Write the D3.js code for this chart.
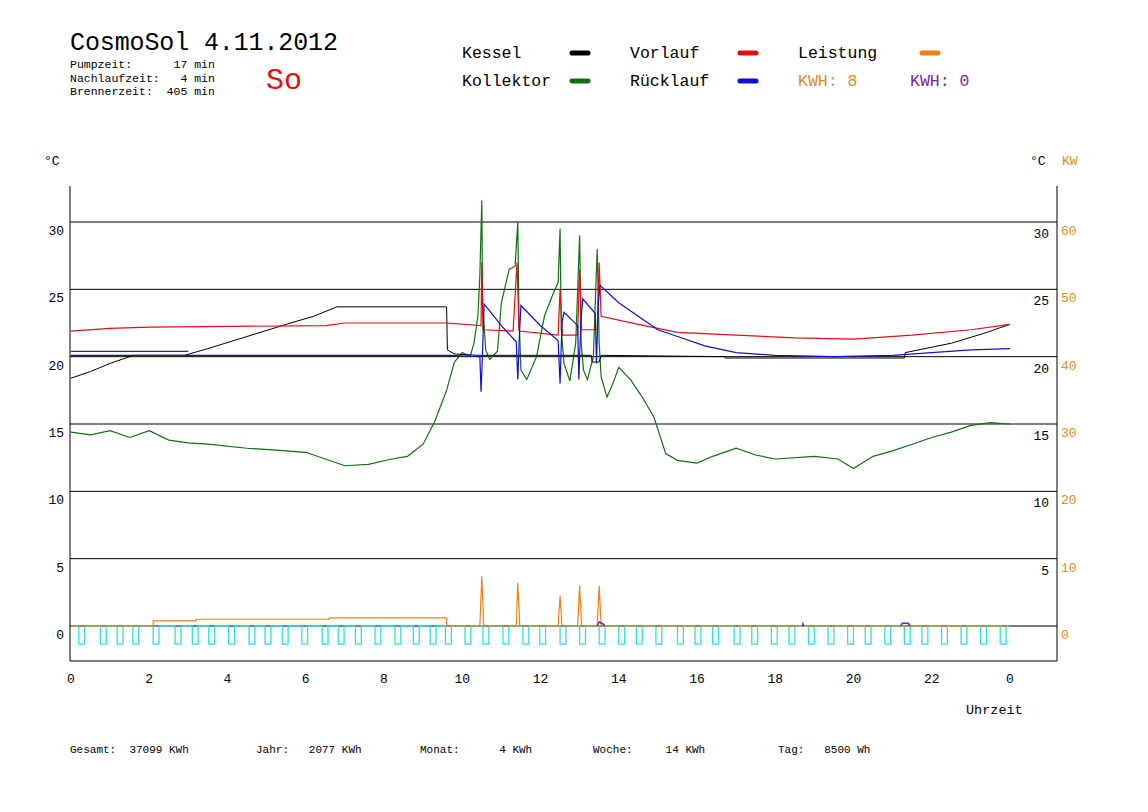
<!DOCTYPE html>
<html>
<head>
<title>CosmoSol</title>
<script src="https://cdn.jsdelivr.net/npm/d3@7"></script>
<style>
body { margin: 0; background: #fff; }
text { font-family: "Liberation Mono", "DejaVu Sans Mono", monospace; }
</style>
</head>
<body>
<svg id="chart" width="1148" height="812"></svg>
<script>
// values: [hour, °C] or [hour, kW]
var kessel = [[0,18.4],[0.5,18.9],[1,19.5],[1.6,20.1],[2.9,20.1],[3.5,20.6],[4.5,21.5],[5.5,22.4],[6.2,23.0],[6.8,23.7],[9.6,23.7],[9.62,20.5],[9.8,20.2],[10.4,20.1],[13.3,20.1],[13.32,19.6],[13.5,19.6],[13.55,20.1],[16.7,20.0],[16.72,19.9],[21.3,19.9],[21.32,20.3],[22.5,21.0],[23.3,21.7],[24,22.4]];
var kessel2 = [[0,20.4],[3.0,20.4]];
var vorlauf = [[0,21.9],[1,22.1],[2,22.2],[6.5,22.3],[7,22.5],[9.6,22.5],[10.48,22.3],[10.5,27.0],[10.53,22.0],[11.3,21.9],[11.4,27.0],[11.45,21.9],[12.45,21.6],[12.5,25.0],[12.56,21.6],[12.95,21.6],[13.0,26.5],[13.05,22.0],[13.45,22.0],[13.5,27.0],[13.55,23.0],[14.5,22.4],[15.5,21.8],[17,21.6],[18.5,21.4],[20,21.3],[21.5,21.6],[23,22.0],[24,22.4]];
var ruecklauf = [[0,20.1],[9.7,20.1],[10.45,20.0],[10.48,17.4],[10.52,20.5],[10.56,23.9],[11.0,22.3],[11.38,21.1],[11.42,18.3],[11.46,21.5],[11.5,23.8],[12.0,22.3],[12.45,21.2],[12.5,18.0],[12.55,22.5],[12.6,23.3],[12.95,22.3],[12.98,18.3],[13.03,22.5],[13.08,24.3],[13.4,23.2],[13.43,19.5],[13.48,24.0],[13.52,25.3],[14.0,24.0],[14.5,23.0],[15.0,22.0],[15.5,21.5],[16.2,20.8],[17,20.3],[18,20.1],[19.5,20.0],[21,20.1],[22,20.3],[23,20.5],[24,20.6]];
var kollektor = [[0,14.4],[0.5,14.2],[1,14.5],[1.5,14.0],[2,14.5],[2.5,13.8],[3,13.6],[3.5,13.5],[4.5,13.2],[5.5,13.0],[6,12.9],[6.5,12.4],[7,11.9],[7.6,12.0],[8.2,12.4],[8.6,12.6],[9,13.5],[9.3,15.2],[9.6,17.5],[9.8,19.6],[10,20.3],[10.2,20.0],[10.3,21.0],[10.4,23.0],[10.45,26.0],[10.5,31.6],[10.52,24.0],[10.6,20.5],[10.7,19.8],[10.9,20.4],[11.0,24.0],[11.2,26.5],[11.35,26.7],[11.42,30.0],[11.45,23.0],[11.5,19.0],[11.65,18.3],[11.9,20.0],[12.1,23.0],[12.3,24.5],[12.45,25.5],[12.5,29.5],[12.53,22.0],[12.6,19.5],[12.75,18.2],[12.9,21.0],[13.0,29.0],[13.04,21.0],[13.1,19.0],[13.2,18.3],[13.35,20.0],[13.45,28.0],[13.5,21.0],[13.55,18.5],[13.7,17.0],[13.85,18.0],[14.0,19.2],[14.3,18.3],[14.6,17.0],[14.9,15.5],[15.2,12.8],[15.5,12.3],[16,12.1],[16.4,12.6],[17,13.2],[17.5,12.7],[18,12.4],[19,12.6],[19.6,12.4],[20,11.7],[20.5,12.6],[21,13.0],[21.5,13.5],[22,14.0],[22.5,14.4],[23,14.9],[23.5,15.1],[24,15.0]];
var leistung = [[0,0],[2.1,0],[2.1,0.75],[3.2,0.75],[3.2,1.0],[6.6,1.0],[6.6,1.2],[9.6,1.2],[9.6,0],[10.45,0],[10.5,7.4],[10.55,0],[11.38,0],[11.42,6.4],[11.47,0],[12.45,0],[12.5,4.5],[12.55,0],[12.95,0],[13.0,6.0],[13.05,0],[13.45,0],[13.5,6.0],[13.55,0],[24,0]];
// null separates the short purple pieces
var purple = [[13.45,0],[13.5,0.6],[13.6,0.3],[13.65,0],null,[18.7,0],[18.7,0.5],[18.72,0],null,[21.2,0],[21.25,0.4],[21.4,0.4],[21.45,0]];
var pumpStarts = [0.2,0.75,1.18,1.58,2.1,2.66,3.1,3.52,4.03,4.55,4.96,5.4,5.9,6.42,6.83,7.27,7.77,8.28,8.75,9.18,9.57,10.07,10.53,11.04,11.55,11.98,12.5,13.0,13.5,14.0,14.45,14.95,15.5,15.95,16.4,16.95,17.4,17.9,18.35,18.85,19.35,19.85,20.3,20.8,21.3,21.75,22.25,22.75,23.25,23.75];
var pumpWidth = 0.15;
var yTicksC = [0,5,10,15,20,25,30];
var xTicks = [0,2,4,6,8,10,12,14,16,18,20,22,24];

var svg = d3.select('#chart');
var x = d3.scaleLinear().domain([0,24]).range([71,1010]);
var y = d3.scaleLinear().domain([0,30]).range([626,222]);
var yk = d3.scaleLinear().domain([0,60]).range([626,222]);

// grid
yTicksC.forEach(function(t){
  svg.append('line').attr('x1',70).attr('x2',1057).attr('y1',y(t)).attr('y2',y(t)).attr('stroke','#000');
  svg.append('text').attr('x',64).attr('y',y(t)+13).attr('text-anchor','end').attr('font-size',13).text(t);
  if (t > 0) {
    svg.append('text').attr('x',1049).attr('y',y(t)+16).attr('text-anchor','end').attr('font-size',13).text(t);
    svg.append('text').attr('x',1061).attr('y',yk(t*2)+13).attr('font-size',13).attr('fill','#e08a1e').text(t*2);
  }
});
svg.append('text').attr('x',1061).attr('y',yk(0)+13).attr('font-size',13).attr('fill','#e08a1e').text(0);
svg.append('line').attr('x1',70).attr('x2',70).attr('y1',186).attr('y2',661).attr('stroke','#000');
svg.append('line').attr('x1',1057).attr('x2',1057).attr('y1',186).attr('y2',661).attr('stroke','#000');
svg.append('line').attr('x1',70).attr('x2',1057).attr('y1',661).attr('y2',661).attr('stroke','#000');
xTicks.forEach(function(t){
  svg.append('text').attr('x',x(t)).attr('y',683).attr('text-anchor','middle').attr('font-size',13).text(t===24?0:t);
});
svg.append('text').attr('x',966).attr('y',714).attr('font-size',13.5).text('Uhrzeit');
svg.append('text').attr('x',44).attr('y',165).attr('font-size',13).text('°C');
svg.append('text').attr('x',1030).attr('y',165).attr('font-size',13).text('°C');
svg.append('text').attr('x',1062).attr('y',165).attr('font-size',13).attr('fill','#e08a1e').text('KW');

var line = d3.line().x(function(d){return x(d[0]);}).y(function(d){return y(d[1]);});
var lineK = d3.line().defined(function(d){return d !== null;})
  .x(function(d){return x(d[0]);}).y(function(d){return yk(d[1]);});

// pump signal
var pump = [[0,0]];
pumpStarts.forEach(function(s){ pump.push([s,0],[s,-1.35],[s+pumpWidth,-1.35],[s+pumpWidth,0]); });
pump.push([24,0]);
svg.append('path').attr('d',line(pump)).attr('fill','none').attr('stroke','#2ee0e0').attr('stroke-width',1.3);

svg.append('path').attr('d',lineK(leistung)).attr('fill','none').attr('stroke','#f08010').attr('stroke-width',1.2);
svg.append('path').attr('d',lineK(purple)).attr('fill','none').attr('stroke','#8020a0').attr('stroke-width',1.5);
svg.append('path').attr('d',line(kollektor)).attr('fill','none').attr('stroke','#107010').attr('stroke-width',1.2);
svg.append('path').attr('d',line(kessel)).attr('fill','none').attr('stroke','#000');
svg.append('path').attr('d',line(kessel2)).attr('fill','none').attr('stroke','#000');
svg.append('path').attr('d',line(vorlauf)).attr('fill','none').attr('stroke','#e01010').attr('stroke-width',1.2);
svg.append('path').attr('d',line(ruecklauf)).attr('fill','none').attr('stroke','#1010d0').attr('stroke-width',1.2);

// header
svg.append('text').attr('x',70).attr('y',50).attr('font-size',25).attr('textLength',268).text('CosmoSol 4.11.2012');
var info = ['Pumpzeit:      17 min','Nachlaufzeit:   4 min','Brennerzeit:  405 min'];
info.forEach(function(s,i){
  svg.append('text').attr('x',70).attr('y',68+i*13.5).attr('font-size',11.5).style('white-space','pre').text(s);
});
svg.append('text').attr('x',266).attr('y',89).attr('font-size',30).attr('fill','#e01010').text('So');

var legend = [
  ['Kessel',462,58,'#000'],['Vorlauf',630,58,'#e01010'],['Leistung',798,58,'#f08010'],
  ['Kollektor',462,86,'#107010'],['Rücklauf',630,86,'#1010d0']
];
var mk = [572,740,922,572,740];
legend.forEach(function(l,i){
  svg.append('text').attr('x',l[1]).attr('y',l[2]).attr('font-size',16.5).text(l[0]);
  svg.append('line').attr('x1',mk[i]).attr('x2',mk[i]+16).attr('y1',l[2]-5).attr('y2',l[2]-5)
    .attr('stroke',l[3]).attr('stroke-width',5).attr('stroke-linecap','round');
});
svg.append('text').attr('x',798).attr('y',86).attr('font-size',16.5).attr('fill','#e08a1e').text('KWH: 8');
svg.append('text').attr('x',910).attr('y',86).attr('font-size',16.5).attr('fill','#8020a0').text('KWH: 0');

var stats = [['Gesamt:  37099 KWh',70],['Jahr:   2077 KWh',256],['Monat:      4 KWh',420],['Woche:     14 KWh',593],['Tag:   8500 Wh',778]];
stats.forEach(function(s){
  svg.append('text').attr('x',s[1]).attr('y',753).attr('font-size',11).style('white-space','pre').text(s[0]);
});
</script>
</body>
</html>
